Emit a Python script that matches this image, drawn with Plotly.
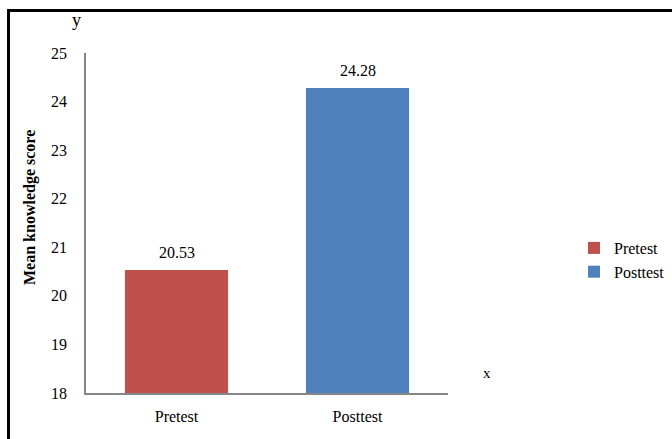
import plotly.graph_objects as go

categories = ["Pretest", "Posttest"]
values = [20.53, 24.28]
colors = ["#C0504D", "#4F81BD"]
y_ticks = [18, 19, 20, 21, 22, 23, 24, 25]

SERIF = "Liberation Serif, Times New Roman, serif"

fig = go.Figure()
for cat, val, col in zip(categories, values, colors):
    fig.add_trace(go.Bar(
        x=[cat], y=[val], name=cat,
        marker=dict(color=col, line=dict(width=0)),
        width=0.57,
    ))

L, R, T, B = 86, 448, 53, 393
W, H = 672, 439
pw, ph = R - L, B - T

def px(x):
    return (x - L) / pw

def py(y):
    return (B - y) / ph

value_labels = [
    dict(text=f"{val:.2f}", x=cat, y=val, xref="x", yref="y",
         xanchor="center", yanchor="bottom", yshift=7, showarrow=False,
         font=dict(family=SERIF, size=16, color="#000"))
    for cat, val in zip(categories, values)
]

fig.update_layout(
    width=W, height=H,
    margin=dict(l=L, r=W - R, t=T, b=H - B, autoexpand=False),
    paper_bgcolor="white", plot_bgcolor="white",
    barmode="overlay",
    font=dict(family=SERIF, size=16, color="#000"),
    showlegend=True,
    legend=dict(x=px(574), y=py(260), xanchor="left", yanchor="middle",
                font=dict(family=SERIF, size=16, color="#000"),
                itemwidth=30, tracegroupgap=6, bgcolor="rgba(0,0,0,0)"),
    xaxis=dict(showline=True, linecolor="#868686", linewidth=1.5,
               ticks="", showgrid=False, tickfont=dict(size=16),
               ticklabelstandoff=8,
               categoryorder="array", categoryarray=categories),
    yaxis=dict(range=[18, 25], tickvals=y_ticks, showline=True,
               linecolor="#868686", linewidth=1.5, ticks="", showgrid=False,
               zeroline=False, tickfont=dict(size=16), ticklen=0,
               ticklabelstandoff=14),
    shapes=[dict(type="rect", xref="paper", yref="paper",
                 x0=px(8.5), x1=px(W + 20), y0=py(10.5), y1=py(H + 20),
                 line=dict(color="black", width=3), fillcolor="rgba(0,0,0,0)",
                 layer="above")],
    annotations=value_labels + [
        dict(text="y", x=px(76), y=py(20), xref="paper", yref="paper",
             xanchor="center", yanchor="middle",
             showarrow=False, font=dict(family=SERIF, size=18)),
        dict(text="x", x=px(487), y=py(373), xref="paper", yref="paper",
             xanchor="center", yanchor="middle",
             showarrow=False, font=dict(family=SERIF, size=15)),
        dict(text="<b>Mean knowledge score</b>", x=px(30), y=py(208),
             xref="paper", yref="paper", textangle=-90, showarrow=False,
             xanchor="center", yanchor="middle",
             font=dict(family=SERIF, size=16)),
    ],
)

fig.write_html("out.html")
